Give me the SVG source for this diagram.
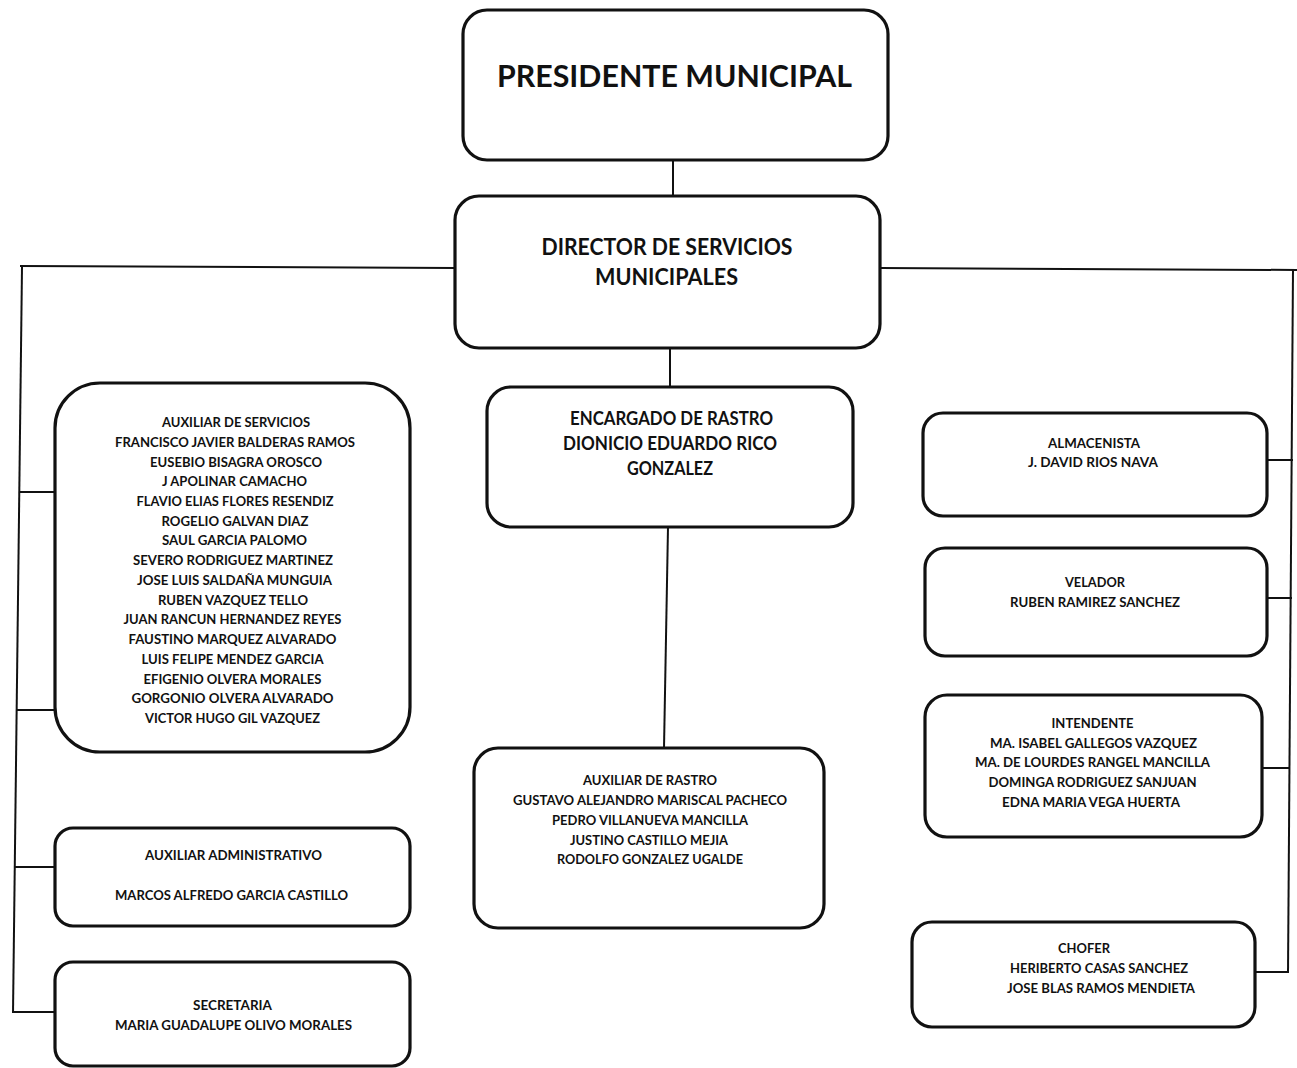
<svg xmlns="http://www.w3.org/2000/svg" width="1297" height="1068" viewBox="0 0 1297 1068">
<style>
.box{fill:#fff;stroke:#111;stroke-width:3.2}
.c{stroke:#111;stroke-width:2;fill:none}
text{font-family:Lato,"Liberation Sans",sans-serif;font-weight:bold;fill:#111;text-anchor:middle}
.s{font-size:13.5px}
.m{font-size:18.5px}
.d{font-size:22.5px}
.p{font-size:31px}
</style>
<rect width="1297" height="1068" fill="#fff"/>
<g id="connectors">
<line class="c" x1="673" y1="160" x2="673" y2="196"/>
<line class="c" x1="20" y1="266" x2="455" y2="268"/>
<line class="c" x1="880" y1="268" x2="1297" y2="270"/>
<line class="c" x1="22" y1="267" x2="13" y2="1013"/>
<line class="c" x1="19" y1="492" x2="57" y2="492"/>
<line class="c" x1="17" y1="710" x2="55" y2="710"/>
<line class="c" x1="15" y1="867" x2="55" y2="867"/>
<line class="c" x1="13" y1="1012" x2="55" y2="1012"/>
<line class="c" x1="670" y1="348" x2="670" y2="387"/>
<line class="c" x1="668" y1="527" x2="664" y2="748"/>
<line class="c" x1="1293" y1="269" x2="1288" y2="973"/>
<line class="c" x1="1267" y1="460" x2="1293" y2="460"/>
<line class="c" x1="1267" y1="598" x2="1292" y2="598"/>
<line class="c" x1="1262" y1="768" x2="1290" y2="768"/>
<line class="c" x1="1255" y1="972" x2="1289" y2="972"/>
</g>
<g id="presidente">
<rect class="box" x="463" y="10" width="425" height="150" rx="24"/>
<text class="p" x="674.5" y="87" textLength="355" lengthAdjust="spacingAndGlyphs">PRESIDENTE MUNICIPAL</text>
</g>
<g id="director">
<rect class="box" x="455" y="196" width="425" height="152" rx="24"/>
<text class="d" x="667" y="255" textLength="251" lengthAdjust="spacingAndGlyphs">DIRECTOR DE SERVICIOS</text>
<text class="d" x="666.5" y="285" textLength="143" lengthAdjust="spacingAndGlyphs">MUNICIPALES</text>
</g>
<g id="auxiliar-servicios">
<rect class="box" x="55" y="383" width="355" height="369" rx="45"/>
<text class="s" x="236" y="427" textLength="148" lengthAdjust="spacingAndGlyphs">AUXILIAR DE SERVICIOS</text>
<text class="s" x="235" y="446.7" textLength="240" lengthAdjust="spacingAndGlyphs">FRANCISCO JAVIER BALDERAS RAMOS</text>
<text class="s" x="236" y="466.5" textLength="172" lengthAdjust="spacingAndGlyphs">EUSEBIO BISAGRA OROSCO</text>
<text class="s" x="234.5" y="486.2" textLength="145" lengthAdjust="spacingAndGlyphs">J APOLINAR CAMACHO</text>
<text class="s" x="235" y="505.9" textLength="197" lengthAdjust="spacingAndGlyphs">FLAVIO ELIAS FLORES RESENDIZ</text>
<text class="s" x="235" y="525.7" textLength="147" lengthAdjust="spacingAndGlyphs">ROGELIO GALVAN DIAZ</text>
<text class="s" x="234.5" y="545.4" textLength="145" lengthAdjust="spacingAndGlyphs">SAUL GARCIA PALOMO</text>
<text class="s" x="233" y="565.1" textLength="200" lengthAdjust="spacingAndGlyphs">SEVERO RODRIGUEZ MARTINEZ</text>
<text class="s" x="234.5" y="584.8" textLength="195" lengthAdjust="spacingAndGlyphs">JOSE LUIS SALDAÑA MUNGUIA</text>
<text class="s" x="233" y="604.6" textLength="150" lengthAdjust="spacingAndGlyphs">RUBEN VAZQUEZ TELLO</text>
<text class="s" x="232.5" y="624.3" textLength="218" lengthAdjust="spacingAndGlyphs">JUAN RANCUN HERNANDEZ REYES</text>
<text class="s" x="232.5" y="644" textLength="208" lengthAdjust="spacingAndGlyphs">FAUSTINO MARQUEZ ALVARADO</text>
<text class="s" x="232.5" y="663.8" textLength="182" lengthAdjust="spacingAndGlyphs">LUIS FELIPE MENDEZ GARCIA</text>
<text class="s" x="232.5" y="683.5" textLength="178" lengthAdjust="spacingAndGlyphs">EFIGENIO OLVERA MORALES</text>
<text class="s" x="232.5" y="703.2" textLength="202" lengthAdjust="spacingAndGlyphs">GORGONIO OLVERA ALVARADO</text>
<text class="s" x="232.5" y="723" textLength="175" lengthAdjust="spacingAndGlyphs">VICTOR HUGO GIL VAZQUEZ</text>
</g>
<g id="auxiliar-administrativo">
<rect class="box" x="55" y="828" width="355" height="98" rx="18"/>
<text class="s" x="233.5" y="860" textLength="177" lengthAdjust="spacingAndGlyphs">AUXILIAR ADMINISTRATIVO</text>
<text class="s" x="231.5" y="900" textLength="233" lengthAdjust="spacingAndGlyphs">MARCOS ALFREDO GARCIA CASTILLO</text>
</g>
<g id="secretaria">
<rect class="box" x="55" y="962" width="355" height="104" rx="18"/>
<text class="s" x="232.5" y="1010" textLength="79" lengthAdjust="spacingAndGlyphs">SECRETARIA</text>
<text class="s" x="233.5" y="1030" textLength="237" lengthAdjust="spacingAndGlyphs">MARIA GUADALUPE OLIVO MORALES</text>
</g>
<g id="encargado-rastro">
<rect class="box" x="487" y="387" width="366" height="140" rx="24"/>
<text class="m" x="671.5" y="425" textLength="203" lengthAdjust="spacingAndGlyphs">ENCARGADO DE RASTRO</text>
<text class="m" x="670" y="450" textLength="214" lengthAdjust="spacingAndGlyphs">DIONICIO EDUARDO RICO</text>
<text class="m" x="670" y="475" textLength="86" lengthAdjust="spacingAndGlyphs">GONZALEZ</text>
</g>
<g id="auxiliar-rastro">
<rect class="box" x="474" y="748" width="350" height="180" rx="24"/>
<text class="s" x="650" y="785" textLength="134" lengthAdjust="spacingAndGlyphs">AUXILIAR DE RASTRO</text>
<text class="s" x="650" y="805" textLength="274" lengthAdjust="spacingAndGlyphs">GUSTAVO ALEJANDRO MARISCAL PACHECO</text>
<text class="s" x="650" y="825" textLength="196" lengthAdjust="spacingAndGlyphs">PEDRO VILLANUEVA MANCILLA</text>
<text class="s" x="649" y="844.5" textLength="158" lengthAdjust="spacingAndGlyphs">JUSTINO CASTILLO MEJIA</text>
<text class="s" x="650" y="864" textLength="186" lengthAdjust="spacingAndGlyphs">RODOLFO GONZALEZ UGALDE</text>
</g>
<g id="almacenista">
<rect class="box" x="923" y="413" width="344" height="103" rx="20"/>
<text class="s" x="1094" y="448" textLength="92" lengthAdjust="spacingAndGlyphs">ALMACENISTA</text>
<text class="s" x="1093" y="467" textLength="130" lengthAdjust="spacingAndGlyphs">J. DAVID RIOS NAVA</text>
</g>
<g id="velador">
<rect class="box" x="925" y="548" width="342" height="108" rx="20"/>
<text class="s" x="1095" y="587" textLength="60" lengthAdjust="spacingAndGlyphs">VELADOR</text>
<text class="s" x="1095" y="607" textLength="170" lengthAdjust="spacingAndGlyphs">RUBEN RAMIREZ SANCHEZ</text>
</g>
<g id="intendente">
<rect class="box" x="925" y="695" width="337" height="142" rx="22"/>
<text class="s" x="1092.5" y="728" textLength="82" lengthAdjust="spacingAndGlyphs">INTENDENTE</text>
<text class="s" x="1093.5" y="748" textLength="207" lengthAdjust="spacingAndGlyphs">MA. ISABEL GALLEGOS VAZQUEZ</text>
<text class="s" x="1092.5" y="767" textLength="235" lengthAdjust="spacingAndGlyphs">MA. DE LOURDES RANGEL MANCILLA</text>
<text class="s" x="1092.5" y="787" textLength="208" lengthAdjust="spacingAndGlyphs">DOMINGA RODRIGUEZ SANJUAN</text>
<text class="s" x="1091" y="807" textLength="178" lengthAdjust="spacingAndGlyphs">EDNA MARIA VEGA HUERTA</text>
</g>
<g id="chofer">
<rect class="box" x="912" y="922" width="343" height="105" rx="20"/>
<text class="s" x="1084" y="953" textLength="52" lengthAdjust="spacingAndGlyphs">CHOFER</text>
<text class="s" x="1099" y="973" textLength="178" lengthAdjust="spacingAndGlyphs">HERIBERTO CASAS SANCHEZ</text>
<text class="s" x="1101" y="993" textLength="188" lengthAdjust="spacingAndGlyphs">JOSE BLAS RAMOS MENDIETA</text>
</g>
</svg>
